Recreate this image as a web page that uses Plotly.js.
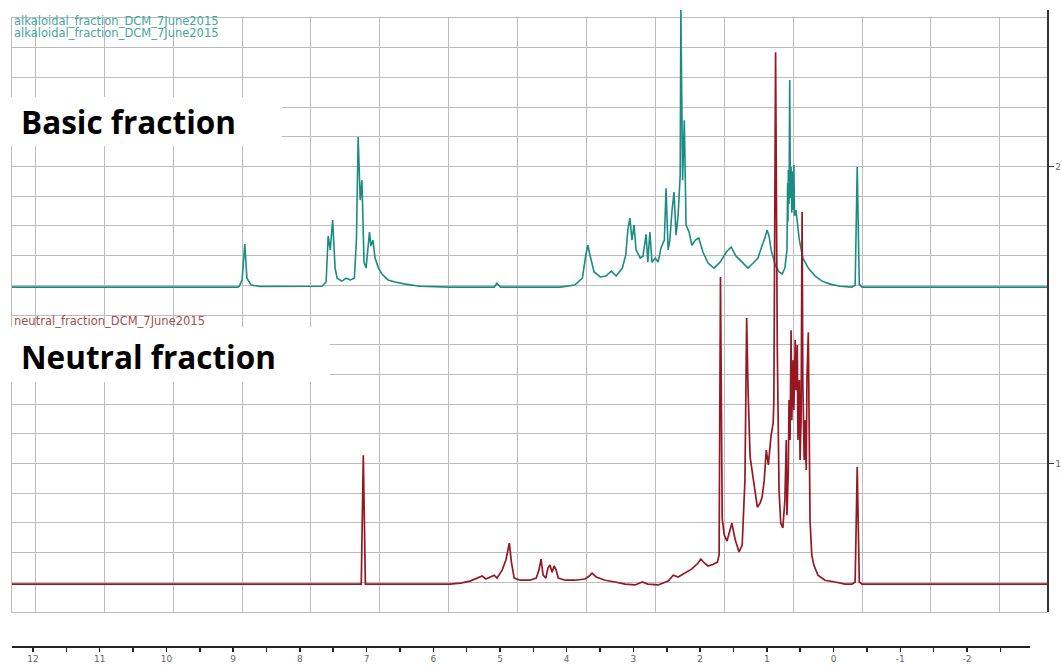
<!DOCTYPE html>
<html>
<head>
<meta charset="utf-8">
<script src="https://cdn.plot.ly/plotly-3.0.1.min.js"></script>
<style>html,body{margin:0;padding:0;background:#fff;}#chart{width:1062px;height:666px;}</style>
</head>
<body>
<div id="chart"></div>
<script>
// ---- data (chemical shift in ppm, relative intensity) ----
const basicPpm = [12.34, 9.06, 9.04, 9.00, 8.96, 8.93, 8.87, 8.74, 7.84, 7.78, 7.75, 7.72, 7.685, 7.65, 7.62, 7.55, 7.49, 7.43, 7.37, 7.34, 7.315, 7.285, 7.26, 7.23, 7.20, 7.17, 7.15, 7.13, 7.10, 7.07, 7.02, 6.97, 6.88, 6.78, 6.63, 6.42, 5.98, 5.34, 5.30, 5.25, 4.38, 4.17, 4.06, 4.01, 3.98, 3.95, 3.89, 3.80, 3.72, 3.64, 3.57, 3.48, 3.43, 3.40, 3.37, 3.34, 3.31, 3.28, 3.22, 3.18, 3.135, 3.11, 3.08, 3.05, 3.00, 2.96, 2.92, 2.87, 2.845, 2.815, 2.79, 2.76, 2.73, 2.70, 2.67, 2.64, 2.63, 2.605, 2.58, 2.555, 2.51, 2.47, 2.42, 2.37, 2.31, 2.235, 2.15, 2.06, 1.97, 1.90, 1.83, 1.74, 1.655, 1.58, 1.51, 1.45, 1.41, 1.38, 1.35, 1.32, 1.26, 1.205, 1.16, 1.12, 1.09, 1.08, 1.075, 1.07, 1.06, 1.05, 1.04, 1.03, 1.02, 1.01, 1.00, 0.99, 0.98, 0.96, 0.91, 0.86, 0.78, 0.68, 0.58, 0.46, 0.32, 0.145, 0.10, 0.07, 0.04, 0.00, -2.685];
const basicInt = [0, 0, 0.03, 0.24, 1.45, 0.30, 0.07, 0.02, 0.03, 0.17, 1.72, 1.25, 2.26, 0.64, 0.30, 0.20, 0.30, 0.24, 0.30, 1.58, 5.05, 2.93, 3.60, 0.84, 0.64, 1.31, 1.85, 1.38, 1.58, 0.98, 0.64, 0.44, 0.24, 0.17, 0.10, 0.03, 0, 0, 0.13, 0, 0, 0.07, 0.30, 1.08, 1.41, 1.08, 0.51, 0.34, 0.37, 0.54, 0.37, 0.64, 1.08, 1.92, 2.32, 1.58, 2.09, 1.25, 0.98, 1.04, 1.78, 0.84, 1.85, 0.84, 0.98, 0.84, 1.31, 1.58, 3.33, 1.25, 1.58, 2.53, 3.20, 1.75, 2.42, 3.77, 9.33, 3.60, 5.62, 2.09, 1.85, 1.41, 1.58, 1.65, 1.18, 0.81, 0.64, 0.84, 1.18, 1.35, 1.04, 0.84, 0.64, 0.81, 0.98, 1.41, 1.65, 1.92, 1.72, 1.25, 0.74, 0.51, 0.44, 0.64, 1.25, 3.5, 2.2, 3.94, 2.8, 6.97, 3.0, 4.04, 2.5, 3.9, 2.6, 4.11, 2.4, 2.59, 1.58, 0.98, 0.64, 0.37, 0.20, 0.10, 0.03, 0, 0.07, 4.04, 0.10, 0, 0];

const neutralPpm = [12.34, 7.27, 7.24, 7.21, 5.98, 5.83, 5.69, 5.57, 5.515, 5.46, 5.40, 5.34, 5.30, 5.225, 5.17, 5.12, 5.09, 5.05, 4.96, 4.82, 4.73, 4.69, 4.66, 4.63, 4.59, 4.56, 4.53, 4.50, 4.47, 4.44, 4.41, 4.31, 4.17, 4.02, 3.96, 3.92, 3.86, 3.73, 3.585, 3.44, 3.295, 3.19, 3.11, 2.96, 2.815, 2.74, 2.67, 2.57, 2.47, 2.38, 2.34, 2.29, 2.235, 2.16, 2.10, 2.075, 2.055, 2.03, 2.00, 1.96, 1.92, 1.89, 1.84, 1.785, 1.74, 1.70, 1.675, 1.655, 1.625, 1.58, 1.52, 1.48, 1.45, 1.42, 1.39, 1.36, 1.32, 1.29, 1.28, 1.255, 1.23, 1.205, 1.18, 1.15, 1.12, 1.10, 1.09, 1.07, 1.06, 1.045, 1.03, 1.02, 1.00, 0.99, 0.97, 0.96, 0.94, 0.93, 0.91, 0.90, 0.885, 0.87, 0.86, 0.84, 0.83, 0.81, 0.80, 0.78, 0.77, 0.755, 0.73, 0.70, 0.64, 0.54, 0.39, 0.25, 0.145, 0.10, 0.07, 0.04, 0, -2.685];
const neutralInt = [0, 0, 4.34, 0, 0, 0.03, 0.10, 0.20, 0.27, 0.17, 0.24, 0.30, 0.20, 0.47, 0.81, 1.38, 0.74, 0.20, 0.13, 0.13, 0.20, 0.47, 0.84, 0.30, 0.20, 0.54, 0.64, 0.40, 0.61, 0.47, 0.20, 0.13, 0.13, 0.17, 0.27, 0.37, 0.24, 0.13, 0.07, 0, -0.03, 0.07, 0, -0.03, 0.10, 0.30, 0.24, 0.37, 0.51, 0.71, 0.84, 0.71, 0.61, 0.67, 0.74, 0.98, 10.34, 2.2, 1.65, 1.45, 1.82, 2.05, 1.48, 1.08, 1.31, 3.50, 8.96, 6.53, 4.28, 3.50, 2.59, 2.73, 2.93, 3.50, 4.51, 4.01, 5.02, 5.42, 6.20, 17.91, 7.88, 3.16, 2.05, 1.89, 2.83, 4.85, 2.32, 3.84, 6.20, 4.85, 8.55, 5.52, 7.54, 5.86, 8.22, 6.53, 8.05, 4.85, 6.87, 4.18, 5.52, 12.53, 6.87, 4.18, 5.52, 3.84, 6.87, 8.48, 5.19, 2.15, 0.98, 0.64, 0.30, 0.13, 0.07, 0, 0, 0.07, 3.94, 0.07, 0, 0];

const basicLabel = "alkaloidal_fraction_DCM_7June2015";
const neutralLabel = "neutral_fraction_DCM_7June2015";
const scaleTickVals = [12, 11, 10, 9, 8, 7, 6, 5, 4, 3, 2, 1, 0, -1, -2];
const scaleTickText = ["12", "11", "10", "9", "8", "7", "6", "5", "4", "3", "2", "1", "0", "-1", "-2"];
const scaleMinorVals = [11.5, 10.5, 9.5, 8.5, 7.5, 6.5, 5.5, 4.5, 3.5, 2.5, 1.5, 0.5, -0.5, -1.5, -2.5];
const rightTickVals = [5, 15];
const rightTickText = ["1", "2"];

// ---- stacking offsets (display) ----
const basicOffset = 10.94;
const neutralOffset = 0.94;

const W = 1062, H = 666;
const mL = 12, mR = 15, mT = 10, mB = 20;
const pw = W - mL - mR, ph = H - mT - mB;
const px = x => (x - mL) / pw;
const py = y => (H - mB - y) / ph;

const gridColor = '#bcbcbc';
const teal = '#1a8c83';
const maroon = '#961822';

const traces = [
  {x: [null], y: [null], xaxis: 'x', yaxis: 'y', mode: 'lines', hoverinfo: 'skip', showlegend: false},
  {x: basicPpm, y: basicInt.map(v => v + basicOffset), xaxis: 'x2', yaxis: 'y2', mode: 'lines',
   line: {color: teal, width: 1.6}, hoverinfo: 'skip', showlegend: false},
  {x: neutralPpm, y: neutralInt.map(v => v + neutralOffset), xaxis: 'x2', yaxis: 'y2', mode: 'lines',
   line: {color: maroon, width: 1.7}, hoverinfo: 'skip', showlegend: false},
  {x: [null], y: [null], xaxis: 'x3', yaxis: 'y3', mode: 'lines', hoverinfo: 'skip', showlegend: false}
];

const xRange = [12.34, -2.685];
const yBottom = py(612);

const layout = {
  width: W, height: H,
  margin: {l: mL, r: mR, t: mT, b: mB, pad: 0},
  paper_bgcolor: '#ffffff',
  plot_bgcolor: 'rgba(0,0,0,0)',
  showlegend: false,
  font: {family: 'DejaVu Sans', size: 10, color: '#555'},
  xaxis: {domain: [0, 1], range: xRange, anchor: 'y', tickmode: 'linear', tick0: 0, dtick: 1,
          showgrid: true, gridcolor: gridColor, gridwidth: 1, zeroline: true, zerolinecolor: gridColor, zerolinewidth: 1,
          showticklabels: false, ticks: '', showline: true, mirror: true, linecolor: gridColor, linewidth: 1, fixedrange: true},
  yaxis: {domain: [yBottom, py(18)], range: [0, 20], anchor: 'x', tickmode: 'linear', tick0: 0, dtick: 1,
          showgrid: true, gridcolor: gridColor, gridwidth: 1, zeroline: true, zerolinecolor: gridColor, zerolinewidth: 1,
          showticklabels: false, ticks: '', showline: true, linecolor: gridColor, linewidth: 1, fixedrange: true},
  xaxis2: {domain: [0, 1], range: xRange, anchor: 'y2', showgrid: false, zeroline: false, showticklabels: false,
           ticks: '', showline: false, fixedrange: true},
  yaxis2: {domain: [yBottom, 1], range: [0, (612 - 10) / 29.7], anchor: 'x2', side: 'right', showgrid: false, zeroline: false,
           showline: true, linecolor: '#333', linewidth: 1.5, ticks: 'outside', ticklen: 5, tickcolor: '#333', tickwidth: 1.5,
           tickmode: 'array', tickvals: rightTickVals, ticktext: rightTickText, showticklabels: true,
           tickfont: {size: 9, color: '#666'}, fixedrange: true},
  xaxis3: {domain: [0, px(1030)], range: [12.315, -2.945], anchor: 'y3', showgrid: false, zeroline: false,
           showline: true, linecolor: '#222', linewidth: 1.5, ticks: 'outside', ticklen: 4, tickcolor: '#222', tickwidth: 1.5,
           tickmode: 'array', tickvals: scaleTickVals, ticktext: scaleTickText, ticklabelstandoff: 0,
           minor: {tickmode: 'array', tickvals: scaleMinorVals, ticks: 'outside', ticklen: 4, tickcolor: '#222', tickwidth: 1.5, showgrid: false},
           tickfont: {size: 9, color: '#666'}, fixedrange: true},
  yaxis3: {domain: [0, 0.005], range: [0, 1], anchor: 'x3', visible: false, fixedrange: true},
  shapes: [
    {type: 'rect', xref: 'paper', yref: 'paper', x0: px(10), x1: px(282), y0: py(146), y1: py(97),
     fillcolor: '#ffffff', line: {width: 0}, layer: 'above'},
    {type: 'rect', xref: 'paper', yref: 'paper', x0: px(10), x1: px(330), y0: py(382), y1: py(327),
     fillcolor: '#ffffff', line: {width: 0}, layer: 'above'}
  ],
  annotations: [
    {xref: 'paper', yref: 'paper', x: px(12), y: py(21), xanchor: 'left', yanchor: 'middle', showarrow: false,
     text: basicLabel, font: {family: 'DejaVu Sans', size: 11.5, color: '#3fa79d'}},
    {xref: 'paper', yref: 'paper', x: px(12), y: py(33), xanchor: 'left', yanchor: 'middle', showarrow: false,
     text: basicLabel, font: {family: 'DejaVu Sans', size: 11.5, color: '#3fa79d'}},
    {xref: 'paper', yref: 'paper', x: px(12), y: py(321), xanchor: 'left', yanchor: 'middle', showarrow: false,
     text: neutralLabel, font: {family: 'DejaVu Sans', size: 11.5, color: '#a0504c'}},
    {xref: 'paper', yref: 'paper', x: px(19), y: py(122), xanchor: 'left', yanchor: 'middle', showarrow: false,
     text: '<b>Basic fraction</b>', font: {family: 'Open Sans', size: 31.5, color: '#000'}},
    {xref: 'paper', yref: 'paper', x: px(19), y: py(357), xanchor: 'left', yanchor: 'middle', showarrow: false,
     text: '<b>Neutral fraction</b>', font: {family: 'Open Sans', size: 31.5, color: '#000'}}
  ]
};

Plotly.newPlot('chart', traces, layout, {staticPlot: true, displayModeBar: false});
</script>
</body>
</html>
